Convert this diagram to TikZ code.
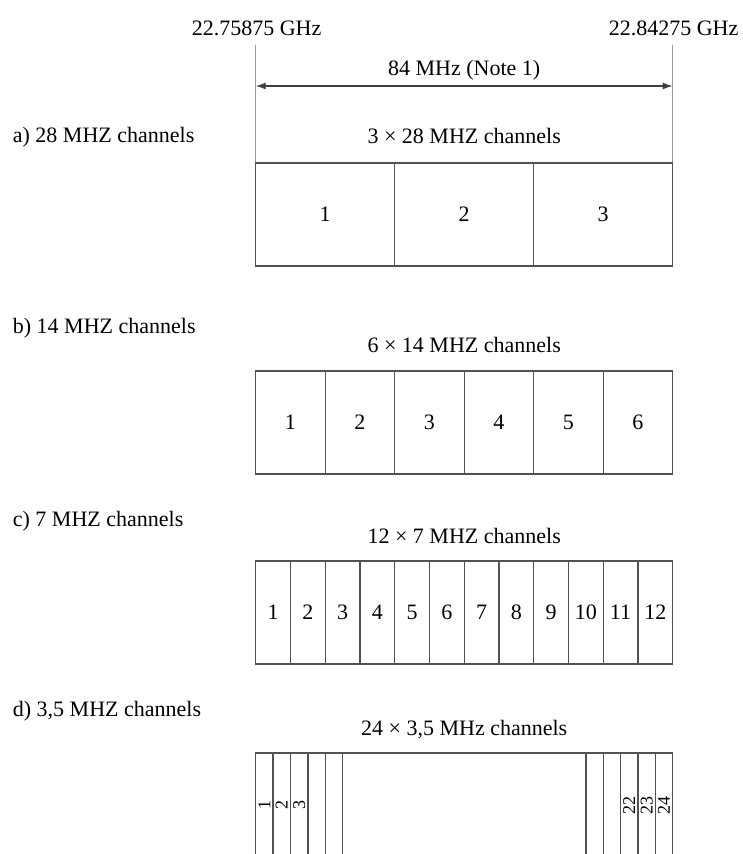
\documentclass[tikz,border=0pt]{standalone}
\usepackage{fontspec}
\setmainfont{Liberation Serif}
\usetikzlibrary{arrows.meta}

\tikzset{
    chan frame/.style={
      draw=black!68,
      line width=1.4pt
    },
    guide line/.style={
      draw=black!40,
      line width=1pt
    },
    span arrow/.style={
      draw=black!75,
      line width=1.3pt,
      {Latex[length=10pt,width=7pt]}-{Latex[length=10pt,width=7pt]}
    },
    band label/.style={
      font=\fontsize{22}{26}\selectfont,
      inner sep=0pt
    },
    chan num/.style={
      font=\fontsize{22}{26}\selectfont,
      inner sep=0pt
    },
    chan vnum/.style={
      font=\fontsize{18}{20}\selectfont,
      inner sep=0pt,
      rotate=90
    }
  }

\begin{document}
\begin{tikzpicture}[x=1pt,y=-1pt]
      \useasboundingbox (0,0) rectangle (742,854);

      % 周波数
      \node[band label, anchor=base] (f lo) at (256.6,35) {22.75875 GHz};
      \node[band label, anchor=base] (f hi) at (673.6,35) {22.84275 GHz};
      \coordinate (lo top) at (255.7,45);
      \coordinate (hi top) at (672.7,45);
      \coordinate (lo bot) at (255.7,163);
      \coordinate (hi bot) at (672.7,163);
      \coordinate (lo arr) at (255.7,86);
      \coordinate (hi arr) at (672.7,86);
      \draw[guide line] (lo top) -- (lo bot);
      \draw[guide line] (hi top) -- (hi bot);
      \draw[span arrow] (lo arr) -- (hi arr);
      \node[band label, anchor=base] (span) at (464.2,75) {84 MHz (Note 1)};

      % a) 28 MHz
      \node[band label, anchor=base west] (lab a) at (12.7,142) {a) 28 MHZ channels};
      \node[band label, anchor=base] (tit a) at (464.2,143) {3 × 28 MHZ channels};
      \draw[chan frame] (255.7,163) rectangle (672.7,266);
      \foreach \k in {1,2}
        \draw[chan frame] ({255.7+139*\k},163) -- ++(0,103);
      \foreach \n in {1,...,3}
        \node[chan num] (a\n) at ({255.7+139*(\n-0.5)},214.5) {\n};

      % b) 14 MHz
      \node[band label, anchor=base west] (lab b) at (12.7,333) {b) 14 MHZ channels};
      \node[band label, anchor=base] (tit b) at (464.2,352) {6 × 14 MHZ channels};
      \draw[chan frame] (255.7,371) rectangle (672.7,474);
      \foreach \k in {1,...,5}
        \draw[chan frame] ({255.7+69.5*\k},371) -- ++(0,103);
      \foreach \n in {1,...,6}
        \node[chan num] (b\n) at ({255.7+69.5*(\n-0.5)},422.5) {\n};

      % c) 7 MHz
      \node[band label, anchor=base west] (lab c) at (12.7,526) {c) 7 MHZ channels};
      \node[band label, anchor=base] (tit c) at (464.2,543) {12 × 7 MHZ channels};
      \draw[chan frame] (255.7,561) rectangle (672.7,664);
      \foreach \k in {1,...,11}
        \draw[chan frame] ({255.7+34.75*\k},561) -- ++(0,103);
      \foreach \n in {1,...,12}
        \node[chan num] (c\n) at ({255.7+34.75*(\n-0.5)},612.5) {\n};

      % d) 3,5 MHz
      \node[band label, anchor=base west] (lab d) at (12.7,716) {d) 3,5 MHZ channels};
      \node[band label, anchor=base] (tit d) at (464.2,735) {24 × 3,5 MHz channels};
      \draw[chan frame] (255.7,854) |- (672.7,753) -- (672.7,854);
      \foreach \k in {1,...,5,19,20,...,23}
        \draw[chan frame] ({255.7+17.375*\k},753) -- (255.7+17.375*\k,854);
      \foreach \n in {1,2,3,22,23,24}
        \node[chan vnum] (d\n) at ({255.7+17.375*(\n-0.5)},805) {\n};
    \end{tikzpicture}
\end{document}
